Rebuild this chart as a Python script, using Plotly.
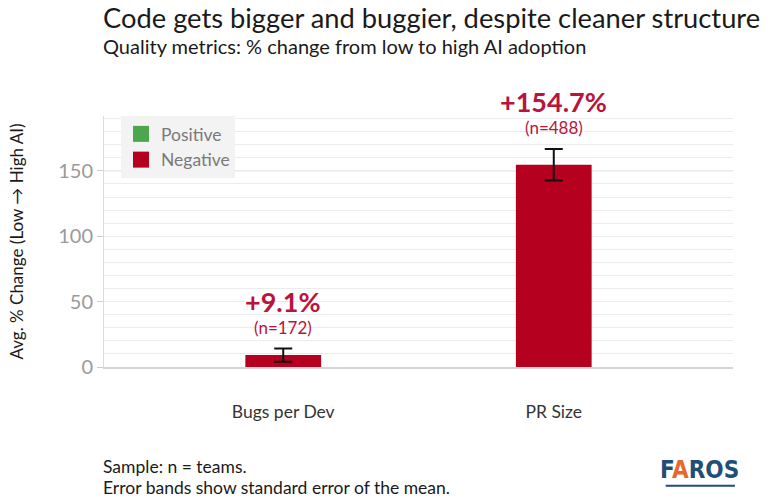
import plotly.graph_objects as go

categories = ["Bugs per Dev", "PR Size"]
values = [9.1, 154.7]
errors = [5.0, 12.0]
sample_sizes = [172, 488]
legend_names = ["Positive", "Negative"]
highlight_value = 150

GREEN = "#4ca64c"
RED = "#b5001f"
TEXT_RED = "#b8143c"
FONT = "Lato, 'Open Sans', sans-serif"

fig = go.Figure()

fig.add_trace(go.Bar(
    x=categories, y=values, width=0.28,
    marker=dict(color=RED, line=dict(width=0)),
    error_y=dict(type="data", array=errors, visible=True, color="#111111",
                 thickness=2, width=9),
    name=legend_names[1], showlegend=False,
))
# legend entries
for nm, col in zip(legend_names, [GREEN, RED]):
    fig.add_trace(go.Scatter(x=[None], y=[None], mode="markers", name=nm,
                             marker=dict(symbol="square", size=16, color=col)))

for c, v, e, n in zip(categories, values, errors, sample_sizes):
    fig.add_annotation(x=c, y=v + e, yref="y", xref="x", text=f"(n={n})",
                       showarrow=False, yanchor="bottom", yshift=9,
                       font=dict(size=17, color=TEXT_RED, family=FONT))
    fig.add_annotation(x=c, y=v + e, yref="y", xref="x", text=f"<b>+{v}%</b>",
                       showarrow=False, yanchor="bottom", yshift=29,
                       font=dict(size=27, color=TEXT_RED, family=FONT))

fig.add_shape(type="line", xref="paper", x0=0, x1=1, yref="y",
              y0=highlight_value, y1=highlight_value,
              line=dict(color="#e2e2fb", width=1), layer="below")

fig.add_annotation(xref="paper", yref="paper", x=-0.004, y=1.394,
                   xanchor="left", yanchor="middle", showarrow=False,
                   text="Code gets bigger and buggier, despite cleaner structure",
                   font=dict(size=27.3, color="#1a1a1a", family=FONT))
fig.add_annotation(xref="paper", yref="paper", x=-0.004, y=1.278,
                   xanchor="left", yanchor="middle", showarrow=False,
                   text="Quality metrics: % change from low to high AI adoption",
                   font=dict(size=20, color="#1a1a1a", family=FONT))
fig.add_annotation(xref="paper", yref="paper", x=-0.004, y=-0.395,
                   xanchor="left", yanchor="middle", showarrow=False,
                   text="Sample: n = teams.",
                   font=dict(size=17.5, color="#1a1a1a", family=FONT))
fig.add_annotation(xref="paper", yref="paper", x=-0.004, y=-0.48,
                   xanchor="left", yanchor="middle", showarrow=False,
                   text="Error bands show standard error of the mean.",
                   font=dict(size=17.5, color="#1a1a1a", family=FONT))
# logo
fig.add_annotation(xref="paper", yref="paper", x=0.947, y=-0.41,
                   xanchor="center", yanchor="middle", showarrow=False,
                   text="<b>F<span style='color:#e8672b'>A</span>ROS</b>",
                   font=dict(size=24, color="#1f4e79", family="'Liberation Sans Narrow', 'DejaVu Sans Condensed', sans-serif"))
fig.add_shape(type="line", xref="paper", yref="paper", x0=0.893, x1=1.003,
              y0=-0.473, y1=-0.473, line=dict(color="#1f4e79", width=2))

fig.update_layout(
    width=768, height=499,
    margin=dict(l=104, r=35, t=116, b=132),
    paper_bgcolor="white", plot_bgcolor="white",
    barmode="overlay",
    font=dict(family=FONT),
    showlegend=True,
    legend=dict(x=0.027, y=1.0, xanchor="left", yanchor="top",
                bgcolor="#f3f3f3", font=dict(size=17.5, color="#7a7a7a", family=FONT),
                itemsizing="trace", tracegroupgap=0),
    xaxis=dict(range=[-0.6625, 1.6625], showgrid=False,
               showline=True, linecolor="#d4d4d4", linewidth=2,
               ticks="outside", ticklen=28, tickcolor="rgba(0,0,0,0)",
               tickfont=dict(size=17.5, color="#333333", family=FONT)),
    yaxis=dict(range=[0, 192], dtick=50, tick0=0, showgrid=True,
               gridcolor="#ececec", gridwidth=1,
               minor=dict(dtick=10, showgrid=True, gridcolor="#ececec", gridwidth=1),
               showline=True, linecolor="#dcdcdc", linewidth=1,
               ticks="outside", ticklen=6, tickcolor="#cccccc",
               zeroline=False,
               tickfont=dict(size=20, color="#9a9a9a", family=FONT),
               title=dict(text="Avg. % Change (Low → High AI)", standoff=30,
                          font=dict(size=17, color="#1a1a1a", family=FONT))),
)

fig.write_html("out.html")
